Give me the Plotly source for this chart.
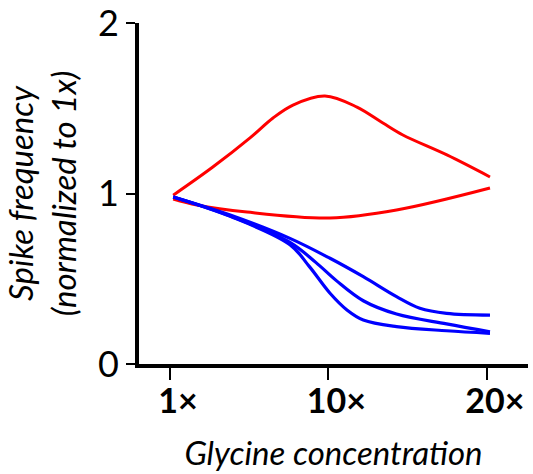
import plotly.graph_objects as go

# x positions: 0 = 1x, 1 = 10x, 2 = 20x (category slots)
tick_pos = [0, 1, 2]
tick_labels = ["1×", "10×", "20×"]
y_ticks = [0, 1, 2]

red_up_x = [0.02, 0.27, 0.505, 0.65, 0.776, 0.978, 1.18, 1.344, 1.47, 1.748, 2.02]
red_up_y = [0.99, 1.155, 1.326, 1.443, 1.519, 1.572, 1.507, 1.413, 1.343, 1.226, 1.097]

red_lo_x = [0.02, 0.17, 0.486, 1.01, 1.43, 2.02]
red_lo_y = [0.968, 0.933, 0.891, 0.856, 0.903, 1.032]

blue_a_x = [0.02, 0.38, 0.757, 1.01, 1.22, 1.43, 1.577, 1.746, 2.02]
blue_a_y = [0.98, 0.874, 0.737, 0.62, 0.512, 0.395, 0.327, 0.297, 0.287]

blue_b_x = [0.02, 0.38, 0.757, 0.92, 1.05, 1.22, 1.43, 1.746, 2.02]
blue_b_y = [0.98, 0.868, 0.713, 0.596, 0.489, 0.371, 0.293, 0.235, 0.189]

blue_c_x = [0.02, 0.38, 0.757, 0.88, 1.01, 1.117, 1.22, 1.43, 1.746, 2.02]
blue_c_y = [0.98, 0.866, 0.70, 0.571, 0.415, 0.317, 0.258, 0.219, 0.195, 0.18]

fig = go.Figure()
series = [
    (red_up_x, red_up_y, "#ff0000", 3),
    (red_lo_x, red_lo_y, "#ff0000", 3),
    (blue_a_x, blue_a_y, "#0000ff", 3.2),
    (blue_b_x, blue_b_y, "#0000ff", 3.2),
    (blue_c_x, blue_c_y, "#0000ff", 3.2),
]
for xs, ys, col, w in series:
    fig.add_trace(go.Scatter(x=xs, y=ys, mode="lines",
                             line=dict(color=col, width=w, shape="spline", smoothing=1.0),
                             showlegend=False, hoverinfo="skip"))

fig.update_layout(
    width=533, height=474,
    margin=dict(l=139, r=5, t=23, b=110),
    plot_bgcolor="white", paper_bgcolor="white",
    font=dict(family="Lato, Open Sans, sans-serif", color="black"),
)
fig.update_xaxes(
    range=[-0.196, 2.26], showgrid=False, zeroline=False, automargin=False,
    showline=True, linecolor="black", linewidth=4,
    ticks="outside", ticklen=12, tickwidth=2, tickcolor="black",
    tickvals=tick_pos, ticktext=["<b>%s</b>" % t for t in tick_labels],
    tickfont=dict(size=34, color="black"), ticklabelshift=8, ticklabelstandoff=-8,
    title=dict(text="<i>Glycine concentration</i>", font=dict(size=33, color="black"), standoff=24),
)
fig.update_yaxes(
    range=[0, 2], showgrid=False, zeroline=False, automargin=False,
    showline=True, linecolor="black", linewidth=4,
    ticks="outside", ticklen=9, tickwidth=2, tickcolor="black",
    tickvals=y_ticks, ticktext=[str(v) for v in y_ticks],
    tickfont=dict(size=36, color="black"), ticklabeloverflow="allow",
    title=dict(text="<i>Spike frequency<br>(normalized to 1x)</i>", font=dict(size=33, color="black"), standoff=14),
)
fig.write_html("out.html", config={"displayModeBar": False},
               post_script="document.body.style.margin='0';")
